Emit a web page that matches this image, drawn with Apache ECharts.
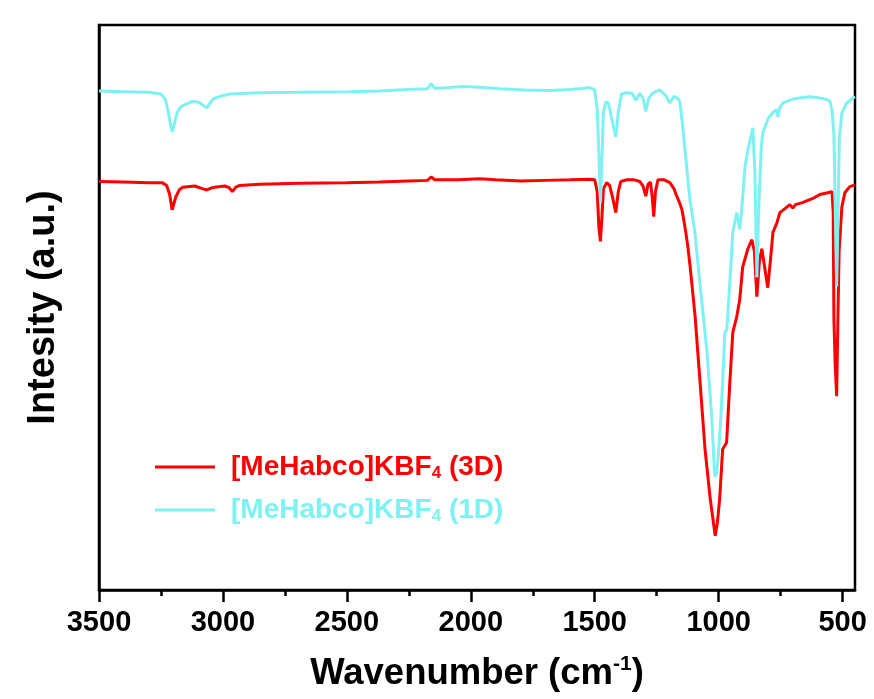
<!DOCTYPE html>
<html>
<head>
<meta charset="utf-8">
<script src="https://cdn.jsdelivr.net/npm/echarts@6/dist/echarts.min.js"></script>
<style>
html,body{margin:0;padding:0;background:#fff;}
#chart{width:874px;height:699px;}
</style>
</head>
<body>
<div id="chart"></div>
<script>
// Series names
const seriesNames = ['[MeHabco]KBF4 (3D)', '[MeHabco]KBF4 (1D)'];

// X tick labels (wavenumber, cm-1)
const xTicks = [3500, 3000, 2500, 2000, 1500, 1000, 500];
const xMinorTicks = [3250, 2750, 2250, 1750, 1250, 750];

// [MeHabco]KBF4 (3D) : [wavenumber, intensity (a.u.)]
const data3D = [
[3500,72.3],[3400,72.2],[3300,72.1],[3245,72.1],[3227,71.6],[3215,70.0],[3205,67.3],[3198,67.6],[3190,69.6],[3175,70.9],[3162,71.3],[3114,71.5],[3080,71.0],[3065,70.8],[3050,71.1],[3033,71.3],[2993,71.5],[2975,71.2],[2962,70.5],[2948,71.3],[2932,71.6],[2851,71.8],[2690,72.0],[2500,72.1],[2370,72.2],[2250,72.4],[2175,72.5],[2160,73.1],[2145,72.6],[2050,72.6],[1964,72.8],[1900,72.6],[1800,72.4],[1700,72.5],[1600,72.6],[1520,72.7],[1500,72.6],[1490,70.5],[1483,64.0],[1477,61.7],[1471,66.0],[1465,71.0],[1452,72.1],[1440,71.6],[1428,69.5],[1415,66.8],[1405,70.5],[1395,72.3],[1370,72.6],[1340,72.6],[1318,72.3],[1305,71.5],[1294,69.7],[1285,71.8],[1275,72.2],[1268,69.5],[1262,66.1],[1255,70.5],[1245,72.6],[1237,72.6],[1220,72.6],[1197,72.1],[1180,71.0],[1172,70.0],[1160,68.8],[1148,67.3],[1135,64.0],[1125,61.0],[1115,57.2],[1095,48.4],[1075,36.7],[1055,24.9],[1034,16.1],[1014,9.6],[1005,12.0],[996,16.1],[984,24.9],[968,26.1],[955,36.7],[943,45.6],[927,48.4],[915,51.4],[903,57.2],[882,60.4],[866,62.0],[856,60.0],[846,51.9],[836,58.0],[826,60.4],[814,57.0],[802,53.5],[792,58.0],[781,63.3],[765,65.0],[753,66.8],[730,67.6],[713,68.2],[701,67.6],[690,68.2],[660,68.6],[620,69.3],[592,70.0],[560,70.3],[543,70.5],[538,67.0],[535,47.9],[530,40.0],[524,34.3],[519,48.0],[514,60.0],[503,67.8],[491,70.3],[471,71.4],[450,71.7]
];

// [MeHabco]KBF4 (1D) : [wavenumber, intensity (a.u.)]
const data1D = [
[3500,88.3],[3400,88.2],[3300,88.1],[3250,87.8],[3232,86.8],[3220,84.5],[3210,82.0],[3204,81.1],[3196,82.5],[3185,84.5],[3170,85.5],[3150,86.0],[3120,86.5],[3095,86.3],[3075,85.6],[3065,85.3],[3055,86.0],[3040,86.9],[3010,87.4],[2973,87.8],[2850,88.0],[2690,88.1],[2490,88.2],[2370,88.3],[2250,88.6],[2175,88.7],[2160,89.6],[2145,88.8],[2100,88.9],[2032,89.1],[1964,89.0],[1883,88.7],[1780,88.5],[1680,88.4],[1600,88.6],[1520,88.9],[1500,88.5],[1490,85.0],[1483,77.0],[1477,68.6],[1471,76.0],[1465,84.5],[1455,86.4],[1445,86.2],[1432,83.5],[1415,80.2],[1405,84.5],[1392,87.8],[1370,88.0],[1350,87.9],[1334,86.7],[1318,87.9],[1305,87.0],[1294,84.7],[1282,87.0],[1270,87.8],[1250,88.3],[1237,88.5],[1215,87.6],[1197,86.2],[1180,87.4],[1165,87.0],[1157,86.5],[1145,82.0],[1136,77.9],[1116,69.1],[1096,63.3],[1076,54.4],[1048,42.6],[1028,30.7],[1016,20.1],[1008,20.5],[1002,23.5],[992,30.0],[984,36.7],[975,45.6],[967,46.1],[955,54.4],[943,63.3],[927,66.8],[915,63.8],[907,67.3],[894,74.9],[882,77.9],[862,81.8],[854,74.0],[846,55.3],[838,68.0],[828,78.5],[822,80.9],[800,83.5],[781,84.5],[765,85.0],[761,83.7],[755,85.2],[741,86.2],[713,86.7],[690,87.0],[632,87.3],[592,87.1],[563,86.8],[551,86.5],[543,85.0],[535,80.5],[530,68.0],[524,53.7],[519,65.0],[513,80.0],[503,84.4],[483,86.2],[458,87.1],[450,87.3]
];

const colors = ['#ff0000', '#7ef2f2'];
const FONT = 'Arial, "Liberation Sans", sans-serif';

const chart = echarts.init(document.getElementById('chart'), null, {renderer: 'canvas'});
chart.setOption({
  backgroundColor: '#ffffff',
  animation: false,
  grid: {left: 99, right: 19, top: 25, bottom: 108, show: true, borderColor: '#000', borderWidth: 2.5, backgroundColor: 'transparent'},
  legend: {
    orient: 'vertical', left: 155, top: 452, padding: 0, itemWidth: 60, itemHeight: 3, itemGap: 13, icon: 'rect',
    data: seriesNames,
    formatter: function (name) {
      const k = name === seriesNames[0] ? 'a' : 'b';
      return '{g|}{' + k + '|[MeHabco]KBF}{' + k + 's|4}{' + k + '| ' + (k === 'a' ? '(3D)' : '(1D)') + '}';
    },
    textStyle: {
      fontFamily: FONT, fontSize: 28, fontWeight: 'bold', lineHeight: 30,
      rich: {
        g: {width: 11},
        a: {color: colors[0], fontSize: 28, fontWeight: 'bold', fontFamily: FONT, lineHeight: 30},
        as: {color: colors[0], fontSize: 17, fontWeight: 'bold', fontFamily: FONT, lineHeight: 14, verticalAlign: 'bottom'},
        b: {color: colors[1], fontSize: 28, fontWeight: 'bold', fontFamily: FONT, lineHeight: 30},
        bs: {color: colors[1], fontSize: 17, fontWeight: 'bold', fontFamily: FONT, lineHeight: 14, verticalAlign: 'bottom'}
      }
    }
  },
  xAxis: [{
    type: 'value', min: 450, max: 3500, inverse: true, position: 'bottom',
    name: 'Wavenumber (cm{sup|-1})', nameLocation: 'middle', nameGap: 64,
    nameTextStyle: {
      fontFamily: FONT, fontSize: 36.5, fontWeight: 'bold', color: '#000', lineHeight: 40,
      rich: {sup: {fontFamily: FONT, fontSize: 21, fontWeight: 'bold', color: '#000', verticalAlign: 'top', lineHeight: 26}}
    },
    axisLine: {show: true, lineStyle: {color: '#000', width: 2.5}},
    axisTick: {show: true, customValues: xTicks, length: 12, inside: false, lineStyle: {color: '#000', width: 2.5}},
    axisLabel: {show: true, customValues: xTicks, margin: 18, fontFamily: FONT, fontSize: 29, fontWeight: 'bold', color: '#000',
      formatter: function (v) { return String(v); }},
    splitLine: {show: false}
  }, {
    type: 'value', min: 450, max: 3500, inverse: true, position: 'bottom',
    axisLine: {show: false},
    axisTick: {show: true, customValues: xMinorTicks, length: 6, lineStyle: {color: '#000', width: 2.5}},
    axisLabel: {show: false},
    splitLine: {show: false}
  }],
  yAxis: {
    type: 'value', min: 0, max: 100,
    name: 'Intesity (a.u.)', nameLocation: 'middle', nameGap: 36,
    nameTextStyle: {fontFamily: FONT, fontSize: 38, fontWeight: 'bold', color: '#000'},
    axisLine: {show: true, lineStyle: {color: '#000', width: 2.5}},
    axisTick: {show: false},
    axisLabel: {show: false},
    splitLine: {show: false}
  },
  series: [{
    name: seriesNames[0], type: 'line', xAxisIndex: 0, data: data3D, symbol: 'none', showSymbol: false,
    lineStyle: {color: colors[0], width: 3}, itemStyle: {color: colors[0]}
  }, {
    name: seriesNames[1], type: 'line', xAxisIndex: 0, data: data1D, symbol: 'none', showSymbol: false,
    lineStyle: {color: colors[1], width: 3}, itemStyle: {color: colors[1]}
  }]
});
</script>
</body>
</html>
